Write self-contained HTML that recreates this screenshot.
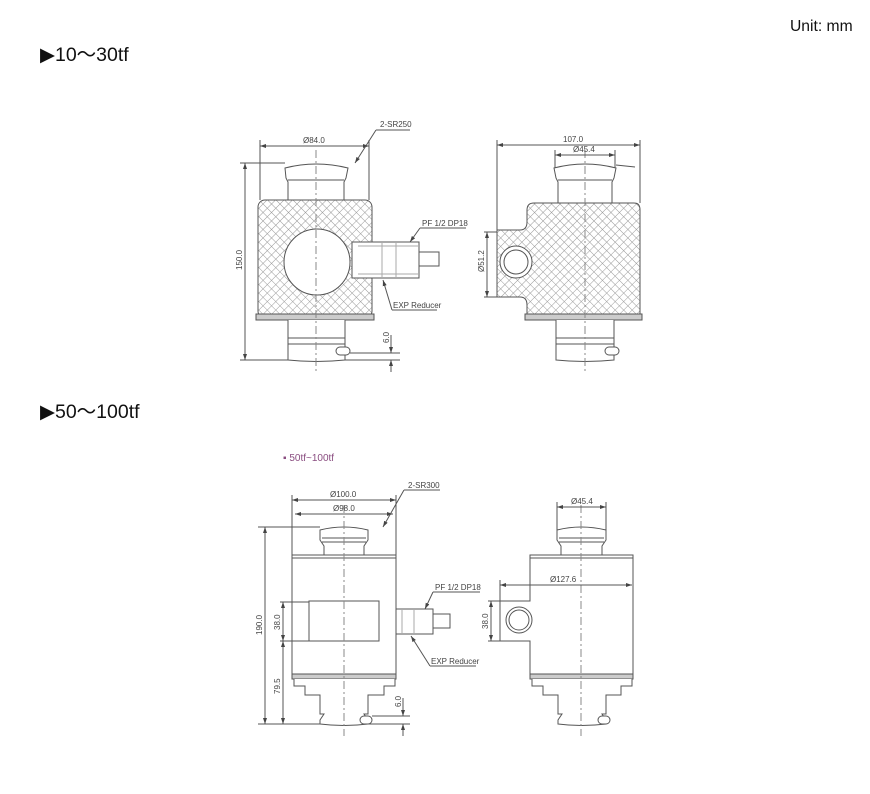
<!DOCTYPE html>
<html><head><meta charset="utf-8"><style>
html,body{margin:0;padding:0;background:#fff;}
svg{display:block;}
</style></head><body>
<svg width="870" height="794" viewBox="0 0 870 794" xmlns="http://www.w3.org/2000/svg" font-family="Liberation Sans, sans-serif">
<defs>
<pattern id="h" width="6" height="6" patternUnits="userSpaceOnUse" patternTransform="rotate(45)">
<rect width="6" height="6" fill="#fff"/>
<path d="M0 0H6M0 0V6" stroke="#9a9a9a" stroke-width="1"/>
</pattern>
<marker id="a" markerWidth="6" markerHeight="6" refX="6" refY="3" orient="auto-start-reverse" markerUnits="userSpaceOnUse"><path d="M0,1 L6,3 L0,5z" fill="#444"/></marker>
</defs>
<text x="790" y="31" font-size="16" transform="translate(790 0) scale(0.98 1) translate(-790 0)" fill="#111">Unit: mm</text>
<text x="40" y="61" font-size="19.5" fill="#111">▶10～30tf</text>
<text x="40" y="418" font-size="19.5" fill="#111">▶50～100tf</text>
<text x="283" y="461" font-size="10" fill="#8a4d80">▪ 50tf~100tf</text>

<g stroke="#555" fill="none" stroke-width="1" font-size="8" >
<!-- ===== TOP LEFT ===== -->
<path d="M285 168 Q316 160 348 168 L346 178 L344 182 L344 200 L288 200 L288 182 L286 178Z" fill="#fff"/>
<line x1="288" y1="180" x2="344" y2="180"/>
<rect x="258" y="200" width="114" height="118" rx="7" fill="url(#h)"/>
<rect x="256" y="314" width="118" height="6" fill="#ccc"/>
<path d="M288 320 L288 360 Q316 363 345 360 L345 320" fill="#fff"/>
<line x1="288" y1="338" x2="345" y2="338"/><line x1="288" y1="344" x2="345" y2="344"/>
<rect x="336" y="347" width="14" height="8" rx="4" fill="#fff"/>
<circle cx="317" cy="262" r="33" fill="#fff"/>
<rect x="352" y="242" width="67" height="36" fill="#fff"/>
<line x1="358" y1="246" x2="419" y2="246" stroke="#aaa"/><line x1="358" y1="274" x2="419" y2="274" stroke="#aaa"/>
<line x1="382" y1="242" x2="382" y2="278" stroke="#aaa"/><line x1="396" y1="242" x2="396" y2="278" stroke="#aaa"/>
<rect x="419" y="252" width="20" height="14" fill="#fff"/>
<line x1="316" y1="150" x2="316" y2="372" stroke-dasharray="8 3 2 3" stroke="#888"/>
<line x1="260" y1="146" x2="369" y2="146" marker-start="url(#a)" marker-end="url(#a)"/>
<line x1="260" y1="140" x2="260" y2="200"/><line x1="369" y1="140" x2="369" y2="200"/>
<text x="303" y="143" fill="#444" stroke="none">Ø84.0</text>
<line x1="355" y1="163" x2="376" y2="130" marker-start="url(#a)"/><line x1="376" y1="130" x2="410" y2="130"/>
<text x="380" y="127" fill="#444" stroke="none">2-SR250</text>
<line x1="240" y1="163" x2="285" y2="163"/><line x1="240" y1="360" x2="288" y2="360"/>
<line x1="245" y1="163" x2="245" y2="360" marker-start="url(#a)" marker-end="url(#a)"/>
<text transform="translate(242 270) rotate(-90)" fill="#444" stroke="none">150.0</text>
<line x1="350" y1="353" x2="400" y2="353"/><line x1="345" y1="360" x2="400" y2="360"/>
<line x1="391" y1="335" x2="391" y2="353" marker-end="url(#a)"/><line x1="391" y1="372" x2="391" y2="360" marker-end="url(#a)"/>
<text transform="translate(389 343) rotate(-90)" fill="#444" stroke="none">6.0</text>
<line x1="410" y1="242" x2="420" y2="228" marker-start="url(#a)"/><line x1="420" y1="228" x2="466" y2="228"/>
<text x="422" y="226" fill="#444" stroke="none">PF 1/2  DP18</text>
<line x1="383" y1="280" x2="392" y2="310" marker-start="url(#a)"/><line x1="392" y1="310" x2="437" y2="310"/>
<text x="393" y="308" fill="#444" stroke="none">EXP Reducer</text>

<!-- ===== TOP RIGHT ===== -->
<path d="M554 168 Q585 160 616 168 L614 178 L612 182 L612 203 L558 203 L558 182 L556 178Z" fill="#fff"/>
<line x1="558" y1="180" x2="612" y2="180"/>
<path d="M497 230 L520 230 Q527 230 527 222 L527 210 Q527 203 534 203 L634 203 Q640 203 640 210 L640 318 L527 318 L527 305 Q527 297 520 297 L497 297Z" fill="url(#h)"/>
<rect x="525" y="314" width="117" height="6" fill="#ccc"/>
<path d="M556 320 L556 360 Q585 363 614 360 L614 320" fill="#fff"/>
<line x1="556" y1="338" x2="614" y2="338"/><line x1="556" y1="344" x2="614" y2="344"/>
<rect x="605" y="347" width="14" height="8" rx="4" fill="#fff"/>
<circle cx="516" cy="262" r="16" fill="#fff"/><circle cx="516" cy="262" r="12"/>
<line x1="585" y1="150" x2="585" y2="372" stroke-dasharray="8 3 2 3" stroke="#888"/>
<line x1="497" y1="145" x2="640" y2="145" marker-start="url(#a)" marker-end="url(#a)"/>
<line x1="497" y1="140" x2="497" y2="230"/><line x1="640" y1="140" x2="640" y2="203"/>
<text x="563" y="142" fill="#444" stroke="none">107.0</text>
<line x1="555" y1="155" x2="615" y2="155" marker-start="url(#a)" marker-end="url(#a)"/>
<line x1="555" y1="150" x2="555" y2="168"/><line x1="615" y1="150" x2="615" y2="168"/>
<text x="573" y="152" fill="#444" stroke="none">Ø45.4</text>
<line x1="616" y1="165" x2="635" y2="167"/>
<line x1="484" y1="232" x2="497" y2="232"/><line x1="484" y1="297" x2="497" y2="297"/>
<line x1="487" y1="232" x2="487" y2="297" marker-start="url(#a)" marker-end="url(#a)"/>
<text transform="translate(484 272) rotate(-90)" fill="#444" stroke="none">Ø51.2</text>

<!-- ===== BOTTOM LEFT ===== -->
<path d="M320 530 Q344 524 368 530 L368 540 L364 546 L364 555 L324 555 L324 546 L320 540Z" fill="#fff"/>
<line x1="322" y1="538" x2="366" y2="538"/><line x1="322" y1="542" x2="366" y2="542"/>
<rect x="292" y="555" width="104" height="123" fill="#fff"/>
<line x1="292" y1="558" x2="396" y2="558"/>
<rect x="292" y="674" width="104" height="5" fill="#ccc"/>
<path d="M294 679 L294 686 L305 686 L305 695 L320 695 L320 714 L324 714 L320 720 L320 724 Q344 727 368 724 L368 720 L364 714 L368 714 L368 695 L384 695 L384 686 L395 686 L395 679" fill="#fff"/>
<rect x="360" y="716" width="12" height="8" rx="4" fill="#fff"/>
<rect x="309" y="601" width="70" height="40" fill="#fff"/>
<rect x="396" y="609" width="37" height="25" fill="#fff"/>
<line x1="402" y1="609" x2="402" y2="634" stroke="#aaa"/><line x1="414" y1="609" x2="414" y2="634" stroke="#aaa"/>
<rect x="433" y="614" width="17" height="14" fill="#fff"/>
<line x1="344" y1="505" x2="344" y2="736" stroke-dasharray="8 3 2 3" stroke="#888"/>
<line x1="292" y1="500" x2="396" y2="500" marker-start="url(#a)" marker-end="url(#a)"/>
<line x1="292" y1="495" x2="292" y2="555"/><line x1="396" y1="495" x2="396" y2="555"/>
<text x="330" y="497" fill="#444" stroke="none">Ø100.0</text>
<line x1="295" y1="514" x2="393" y2="514" marker-start="url(#a)" marker-end="url(#a)"/>
<text x="333" y="511" fill="#444" stroke="none">Ø98.0</text>
<line x1="383" y1="527" x2="404" y2="490" marker-start="url(#a)"/><line x1="404" y1="490" x2="440" y2="490"/>
<text x="408" y="488" fill="#444" stroke="none">2-SR300</text>
<line x1="258" y1="527" x2="320" y2="527"/><line x1="258" y1="724" x2="320" y2="724"/>
<line x1="265" y1="527" x2="265" y2="724" marker-start="url(#a)" marker-end="url(#a)"/>
<text transform="translate(262 635) rotate(-90)" fill="#444" stroke="none">190.0</text>
<line x1="280" y1="602" x2="309" y2="602"/><line x1="280" y1="641" x2="309" y2="641"/>
<line x1="283" y1="602" x2="283" y2="641" marker-start="url(#a)" marker-end="url(#a)"/>
<line x1="283" y1="641" x2="283" y2="724" marker-start="url(#a)" marker-end="url(#a)"/>
<text transform="translate(280 630) rotate(-90)" fill="#444" stroke="none">38.0</text>
<text transform="translate(280 694) rotate(-90)" fill="#444" stroke="none">79.5</text>
<line x1="372" y1="716" x2="410" y2="716"/><line x1="368" y1="724" x2="410" y2="724"/>
<line x1="403" y1="698" x2="403" y2="716" marker-end="url(#a)"/><line x1="403" y1="736" x2="403" y2="724" marker-end="url(#a)"/>
<text transform="translate(401 707) rotate(-90)" fill="#444" stroke="none">6.0</text>
<line x1="425" y1="609" x2="433" y2="592" marker-start="url(#a)"/><line x1="433" y1="592" x2="480" y2="592"/>
<text x="435" y="590" fill="#444" stroke="none">PF 1/2  DP18</text>
<line x1="411" y1="636" x2="430" y2="666" marker-start="url(#a)"/><line x1="430" y1="666" x2="476" y2="666"/>
<text x="431" y="664" fill="#444" stroke="none">EXP Reducer</text>

<!-- ===== BOTTOM RIGHT ===== -->
<path d="M557 530 Q581 524 606 530 L606 540 L602 546 L602 555 L561 555 L561 546 L557 540Z" fill="#fff"/>
<line x1="559" y1="538" x2="604" y2="538"/><line x1="559" y1="542" x2="604" y2="542"/>
<path d="M530 555 L633 555 L633 678 L530 678 L530 641 L500 641 L500 601 L530 601Z" fill="#fff"/>
<line x1="530" y1="558" x2="633" y2="558"/>
<rect x="530" y="674" width="103" height="5" fill="#ccc"/>
<path d="M532 679 L532 686 L543 686 L543 695 L558 695 L558 714 L562 714 L558 720 L558 724 Q581 727 606 724 L606 720 L602 714 L606 714 L606 695 L621 695 L621 686 L632 686 L632 679" fill="#fff"/>
<rect x="598" y="716" width="12" height="8" rx="4" fill="#fff"/>
<circle cx="519" cy="620" r="13" fill="#fff"/><circle cx="519" cy="620" r="10"/>
<line x1="581" y1="505" x2="581" y2="736" stroke-dasharray="8 3 2 3" stroke="#888"/>
<line x1="557" y1="507" x2="606" y2="507" marker-start="url(#a)" marker-end="url(#a)"/>
<line x1="557" y1="502" x2="557" y2="530"/><line x1="606" y1="502" x2="606" y2="530"/>
<text x="571" y="504" fill="#444" stroke="none">Ø45.4</text>
<line x1="500" y1="585" x2="632" y2="585" marker-start="url(#a)" marker-end="url(#a)"/>
<line x1="500" y1="580" x2="500" y2="601"/>
<text x="550" y="582" fill="#444" stroke="none">Ø127.6</text>
<line x1="488" y1="601" x2="500" y2="601"/><line x1="488" y1="641" x2="500" y2="641"/>
<line x1="491" y1="601" x2="491" y2="641" marker-start="url(#a)" marker-end="url(#a)"/>
<text transform="translate(488 629) rotate(-90)" fill="#444" stroke="none">38.0</text>
</g>
</svg>
</body></html>
